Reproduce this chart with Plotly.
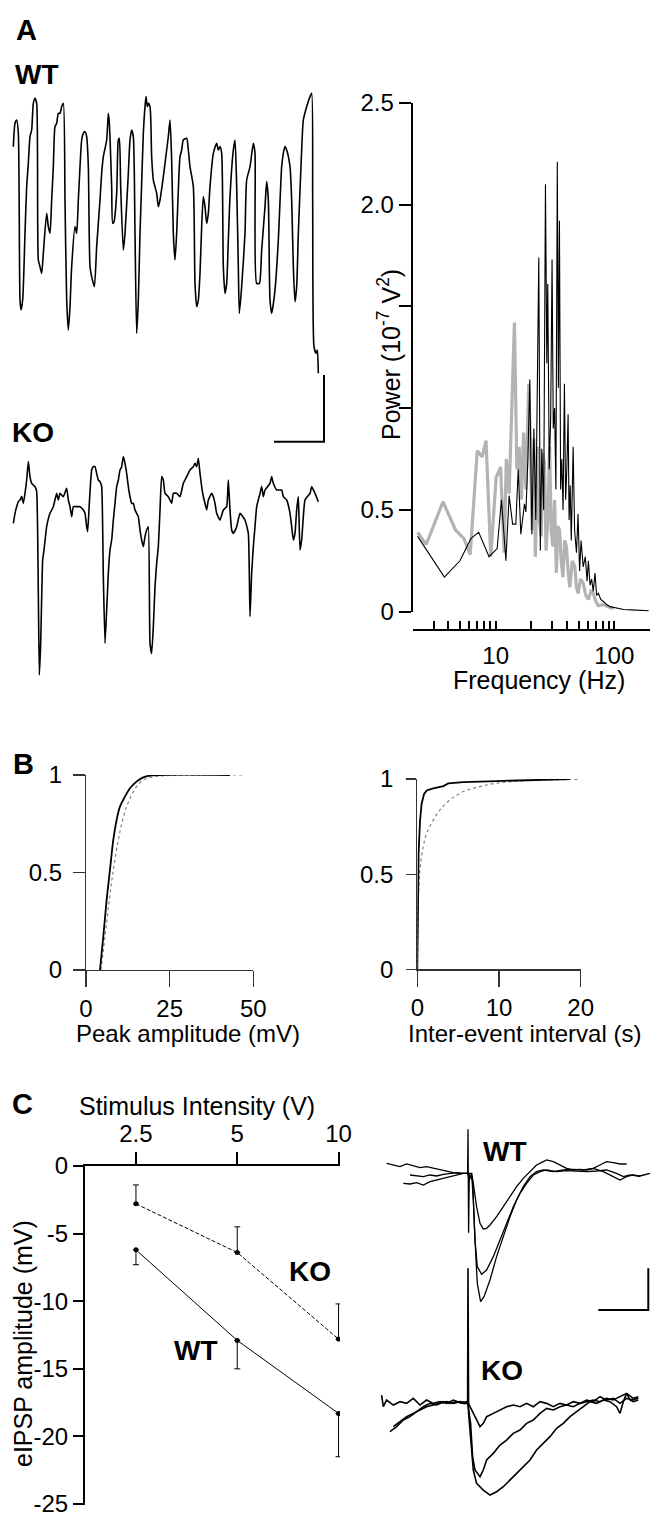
import math
import plotly.graph_objects as go

FONT = "Liberation Sans, Arial, Helvetica, sans-serif"
W, H = 652, 1517

# ======================= DATA =======================
# ---- Panel A: example field-potential traces (time ms, voltage mV) ----
wt_trace_ms = [0, 5, 10, 15, 20, 23, 28, 35, 40, 45,
               50, 55, 60, 65, 70, 75, 80, 85, 90, 100,
               105, 110, 115, 120, 125, 130, 135, 140, 145, 150,
               155, 160, 165, 170, 175, 185, 190, 195, 200, 205,
               210, 215, 220, 225, 230, 235, 243, 250, 260, 265,
               270, 280, 285, 288, 295, 298, 302, 310, 315, 318,
               322, 330, 335, 345, 350, 355, 360, 365, 370, 375,
               380, 385, 390, 395, 398, 402, 405, 410, 415, 420,
               430, 435, 440, 450, 460, 465, 470, 475, 480, 485,
               490, 495, 500, 505, 510, 520, 525, 530, 540, 545,
               550, 555, 560, 565, 570, 575, 580, 585, 590, 600,
               610, 615, 620, 625, 630, 635, 640, 645, 650, 660,
               665, 670, 675, 678, 685, 695, 700, 710, 720, 725,
               730, 738, 745, 755, 760, 765, 770, 775, 785, 795,
               805, 810, 815, 820, 830, 835, 840, 845, 850, 855,
               865, 870, 880, 890, 895, 898, 902, 908, 912, 915]
wt_trace_mv = [1.60, 2.30, 2.40, 2.00, -3.00, -3.30, -3.00, -1.00, 0.40, 1.10,
               1.90, 2.10, 2.90, 3.05, 2.90, -1.80, -2.00, -2.20, -1.60, -0.40,
               -0.80, -1.00, 0.00, 1.00, 2.20, 2.30, 2.60, 2.60, 2.80, 2.90,
               0.00, -3.00, -3.90, -3.20, -2.00, -0.80, -1.00, 0.00, 1.00, 1.80,
               2.00, 2.05, 1.90, 1.00, -2.00, -2.30, -2.60, -1.40, 0.00, 0.80,
               1.30, 1.80, 2.60, 2.30, 0.40, -0.70, -0.65, 0.20, 1.80, 1.85,
               0.40, -1.50, -1.00, 0.80, 1.80, 2.10, 1.90, -1.00, -4.00, -3.00,
               -1.00, 0.50, 2.00, 2.80, 3.10, 2.80, 2.90, 2.80, 1.30, 0.60,
               0.20, -0.20, 0.00, 0.70, 1.50, 1.90, 2.40, 1.20, -1.00, -1.80,
               -1.00, 0.30, 1.30, 1.50, 1.80, 1.85, 1.50, 1.00, 0.40, -2.50,
               -3.20, -3.00, -2.20, -0.80, 0.10, -0.20, -0.70, -0.40, 0.40, 1.40,
               1.70, 1.50, 1.60, 1.40, -2.00, -2.80, -2.50, -1.20, 0.10, 1.50,
               1.80, 0.40, -2.00, -3.40, -2.60, -1.00, 0.60, 1.00, 1.70, 1.40,
               -2.50, -2.50, -1.50, -0.20, 0.55, 0.00, -3.00, -3.40, -2.70, -1.20,
               1.00, 1.40, 1.60, 1.50, 1.00, 0.00, -2.00, -3.05, -2.60, -1.00,
               1.50, 2.40, 2.80, 3.10, 3.20, 0.00, -4.40, -4.60, -4.50, -5.20]

ko_trace_ms = [0, 5, 10, 15, 20, 25, 30, 35, 40, 45,
               50, 55, 60, 65, 70, 75, 78, 82, 88, 92,
               100, 110, 120, 130, 135, 140, 150, 160, 165, 170,
               175, 180, 190, 200, 210, 215, 220, 223, 228, 235,
               240, 245, 250, 255, 260, 265, 270, 275, 280, 285,
               290, 295, 300, 305, 310, 315, 320, 325, 330, 335,
               340, 345, 350, 355, 360, 365, 370, 375, 380, 385,
               390, 395, 400, 405, 410, 415, 420, 425, 430, 435,
               440, 445, 450, 455, 465, 475, 480, 490, 500, 510,
               520, 530, 540, 545, 550, 555, 560, 565, 570, 575,
               580, 585, 595, 600, 605, 610, 620, 630, 640, 645,
               650, 655, 660, 670, 680, 695, 705, 710, 715, 720,
               725, 730, 740, 745, 750, 755, 770, 775, 780, 790,
               805, 810, 820, 830, 835, 840, 845, 850, 855, 860,
               865, 870, 875, 890, 895, 905, 915]
ko_trace_mv = [1.10, 1.40, 1.60, 1.75, 1.80, 1.90, 1.70, 2.00, 2.40, 2.95,
               2.50, 2.30, 2.25, 2.20, 2.05, -1.00, -3.45, -2.50, 0.00, 0.30,
               1.00, 1.40, 1.60, 2.00, 1.80, 2.00, 1.90, 2.15, 1.80, 1.60,
               1.30, 1.60, 1.60, 1.60, 1.50, 1.40, 1.00, 0.85, 1.70, 2.70,
               2.80, 2.80, 2.60, 2.40, 2.35, 2.20, -0.50, -2.50, -1.50, -0.40,
               0.30, 0.60, 1.20, 1.70, 2.20, 2.40, 2.70, 2.80, 3.10, 2.90,
               2.60, 2.20, 1.90, 1.70, 1.70, 1.50, 1.40, 1.30, 0.90, 0.60,
               0.40, 0.70, 0.90, 1.00, -2.50, -2.80, -2.00, -0.80, -0.10, 0.40,
               1.50, 2.50, 2.40, 2.00, 1.90, 1.70, 2.00, 2.00, 1.90, 2.30,
               2.50, 2.70, 2.80, 2.90, 2.80, 3.05, 2.60, 2.20, 1.90, 1.70,
               1.50, 1.80, 2.00, 1.90, 1.70, 1.40, 1.20, 1.50, 1.60, 2.40,
               1.50, 0.90, 0.80, 1.00, 1.40, 1.20, 0.80, -1.70, -0.40, 0.40,
               1.00, 1.60, 2.00, 2.20, 1.90, 2.10, 2.30, 2.50, 2.30, 2.10,
               2.10, 1.90, 1.80, 1.40, 1.00, 0.60, 0.80, 1.50, 1.90, 0.30,
               0.60, 1.30, 1.80, 2.00, 2.20, 2.00, 1.75]

trace_bar_ms = 150      # horizontal scale bar (ms)
trace_bar_mv = 2        # vertical scale bar (mV)
trace_bar_end_ms = 932  # where the bar corner sits
trace_bar_base_mv = -7.25

# ---- Panel A: power spectra ----
wt_freq_hz = [2.2, 3.7, 5.0, 6.2, 7.2, 8.8, 10.3, 11.2, 12.2, 13.0,
              13.9, 14.8, 15.5, 16.3, 17.5, 18.0, 18.7, 19.4, 20.2, 21.0,
              21.8, 22.4, 23.1, 23.8, 24.5, 25.4, 26.3, 27.0, 27.5, 28.3,
              29.1, 29.9, 30.6, 31.4, 32.2, 33.1, 33.8, 34.5, 35.3, 36.1,
              37.0, 38.0, 38.9, 39.8, 40.8, 41.6, 42.5, 43.4, 45.0, 46.3,
              48.0, 49.5, 51.0, 52.5, 54.7, 57.0, 59.0, 60.5, 62.5, 64.4,
              66.5, 68.8, 71.0, 73.4, 77.0, 81.0, 86.0, 92.0, 100.0, 110.0,
              120.0, 140.0, 156.0, 175.0, 195.0]
wt_power = [0.37, 0.17, 0.25, 0.36, 0.39, 0.27, 0.31, 0.55, 0.25, 0.57,
            0.43, 0.43, 0.70, 0.38, 0.53, 0.49, 0.75, 1.14, 0.38, 0.90,
            0.45, 1.00, 1.74, 0.30, 0.80, 0.50, 2.10, 1.22, 1.61, 0.70,
            0.95, 1.73, 0.90, 1.00, 0.60, 2.21, 1.10, 1.92, 0.60, 0.75,
            0.50, 1.12, 0.55, 0.70, 0.97, 0.45, 0.62, 0.35, 0.81, 0.40,
            0.29, 0.48, 0.20, 0.35, 0.22, 0.27, 0.15, 0.25, 0.13, 0.16,
            0.10, 0.19, 0.08, 0.09, 0.06, 0.05, 0.035, 0.025, 0.02, 0.014,
            0.011, 0.009, 0.008, 0.006, 0.005]
ko_freq_hz = [2.2, 2.6, 3.6, 4.6, 5.4, 6.1, 7.0, 7.7, 8.3, 9.1,
              10.1, 11.0, 11.8, 12.3, 13.0, 14.4, 15.1, 15.8, 16.5, 17.2,
              18.0, 19.0, 19.6, 20.3, 21.0, 21.6, 22.6, 23.3, 24.2, 25.0,
              25.8, 26.6, 27.5, 28.5, 29.4, 30.4, 31.4, 32.5, 33.5, 34.6,
              35.7, 36.9, 38.2, 39.5, 40.8, 42.2, 44.3, 46.5, 48.0, 49.6,
              52.0, 54.7, 57.5, 60.5, 63.5, 66.5, 70.0, 73.4, 80.0, 86.8,
              93.0, 99.0]
ko_power = [0.39, 0.33, 0.54, 0.40, 0.36, 0.28, 0.79, 0.76, 0.84, 0.27,
            0.66, 0.71, 0.29, 0.75, 0.58, 1.42, 0.70, 0.81, 0.55, 0.88,
            0.60, 1.12, 0.84, 0.40, 0.85, 0.27, 0.81, 0.45, 0.37, 0.78,
            0.73, 0.30, 0.45, 0.81, 0.40, 0.32, 0.55, 0.19, 0.42, 0.40,
            0.25, 0.17, 0.35, 0.32, 0.20, 0.12, 0.25, 0.22, 0.12, 0.09,
            0.16, 0.14, 0.08, 0.06, 0.10, 0.09, 0.05, 0.03, 0.035, 0.025,
            0.02, 0.016]
power_tickvals = [0, 0.5, 1.0, 1.5, 2.0, 2.5]
power_ticktext = ["0", "0.5", "", "", "2.0", "2.5"]
freq_major = [10, 100]
freq_minor = [2, 3, 4, 5, 6, 7, 8, 9, 20, 30, 40, 50, 60, 70, 80, 90, 200]

# ---- Panel B: cumulative distributions ----
amp_wt_mv = [4.18, 5.17, 6.17, 7.16, 8.16, 9.15, 10.15, 11.64, 13.13, 15.1, 17.1, 19.1, 43.0]
amp_wt_cum = [0.0, 0.171, 0.359, 0.513, 0.667, 0.769, 0.838, 0.889, 0.932, 0.966, 0.988, 0.997, 1.0]
amp_ko_mv = [4.48, 5.67, 6.97, 8.16, 9.65, 10.94, 12.14, 13.63, 15.12, 17.1, 20.1, 24.1, 47.0]
amp_ko_cum = [0.0, 0.171, 0.359, 0.513, 0.667, 0.769, 0.838, 0.897, 0.940, 0.974, 0.991, 0.997, 1.0]
iei_wt_s = [0.0, 0.08, 0.16, 0.33, 0.53, 0.82, 1.15, 1.96, 3.19, 3.80, 5.64, 9.72, 13.8, 18.7]
iei_wt_cum = [0.0, 0.26, 0.61, 0.78, 0.87, 0.92, 0.94, 0.951, 0.963, 0.977, 0.984, 0.989, 0.995, 1.0]
iei_ko_s = [0.0, 0.12, 0.33, 0.73, 1.15, 1.96, 2.78, 4.0, 5.64, 7.68, 9.72, 13.8, 19.9]
iei_ko_cum = [0.0, 0.347, 0.522, 0.645, 0.715, 0.785, 0.838, 0.890, 0.934, 0.960, 0.978, 0.992, 0.998]

# ---- Panel C: input-output ----
stim_v = [2.5, 5, 10]
wt_eipsp = [-6.2, -12.9, -18.3]
wt_sem = [1.1, 2.1, 3.2]
ko_eipsp = [-2.8, -6.4, -12.8]
ko_sem = [1.4, 1.9, 2.6]
eipsp_ticks = [0, -5, -10, -15, -20, -25]
eipsp_ticktext = ["0", "-5", "-10", "-15", "-20", "-25"]

# ---- Panel C: example eIPSP traces (time ms from stimulus, mV) ----
wt1_ms = [-81.7, -75.0, -68.3, -61.7, -55.0, -48.3, -41.7, -35.0, -28.3, -21.7,
          -15.0, -8.3, -0.7, -0.3, 0.3, 1.0, 3.3, 5.0, 8.3, 11.7,
          15.0, 18.3, 21.7, 28.3, 35.0, 41.7, 48.3, 55.0, 61.7, 68.3,
          75.0, 78.3, 85.0, 91.7, 98.3, 105.0, 111.7, 118.3, 125.0, 131.7,
          138.3, 145.0, 151.7, 158.3]
wt1_mv = [1.2, 1.0, 0.8, 1.12, 0.88, 0.68, 0.8, 0.6, 0.4, 0.28,
          0.08, 0, 0, 5.28, -7.12, 0, 0, -1.2, -4.0, -6.0,
          -6.68, -6.6, -6.2, -5.2, -4.0, -2.8, -1.6, -0.6, 0.2, 1.0,
          1.4, 1.6, 1.4, 1.0, 0.6, 0.4, 0.48, 0.4, 0.6, 1.0,
          1.4, 1.28, 1.12, 1.12]
wt2_ms = [-58.3, -51.7, -45.0, -38.3, -31.7, -25.0, -18.3, -11.7, -5.0, -0.7,
          1.0, 3.3, 5.0, 6.7, 9.0, 13.3, 18.3, 25.0, 31.7, 38.3,
          45.0, 51.7, 58.3, 65.0, 71.7, 78.3, 88.3, 98.3, 108.3, 118.3,
          128.3, 138.3, 148.3, 155.0, 161.7, 171.7, 181.7]
wt2_mv = [-0.2, -0.28, -0.4, -0.2, -0.32, -0.12, 0, 0.08, 0, 0,
          -0.8, 0, -3.2, -8.0, -11.2, -12.12, -11.6, -10.0, -8.0, -6.0,
          -4.0, -2.4, -1.2, -0.2, 0.2, 0.4, 0.2, 0.32, 0.28, 0.2,
          0.28, 0.4, 0, -0.4, -0.2, -0.32, 0]
wt3_ms = [-65.0, -58.3, -51.7, -45.0, -38.3, -31.7, -25.0, -18.3, -11.7, -5.0,
          -0.7, 1.7, 4.3, 6.7, 9.0, 12.3, 15.7, 21.7, 28.3, 35.0,
          41.7, 48.3, 55.0, 61.7, 68.3, 75.0, 85.0, 95.0, 105.0, 115.0,
          125.0, 135.0, 141.7, 151.7, 158.3, 165.0, 171.7]
wt3_mv = [-1.2, -1.28, -1.12, -1.4, -1.0, -0.8, -0.6, -0.4, -0.12, 0,
          0, -0.4, -0.8, -8.0, -13.2, -15.4, -14.8, -12.8, -10.0, -7.6,
          -5.2, -3.2, -1.6, -0.4, 0.2, 0.4, 0.2, 0.4, 0.48, 0.4,
          0.6, 0.2, -0.2, -0.8, -0.4, -0.2, -0.4]
ko1_ms = [-86.7, -85.0, -81.7, -75.0, -68.3, -61.7, -55.0, -48.3, -41.7, -35.0,
          -28.3, -21.7, -15.0, -8.3, -0.7, 1.7, 5.0, 8.3, 11.7, 15.0,
          18.3, 25.0, 31.7, 38.3, 45.0, 51.7, 58.3, 65.0, 71.7, 78.3,
          85.0, 91.7, 98.3, 105.0, 111.7, 118.3, 125.0, 131.7, 138.3, 145.0,
          151.7, 158.3, 165.0, 170.0]
ko1_mv = [1.0, -0.4, 0.4, -0.2, 0.2, 0, 0.6, -0.2, 0.4, 0,
          0.2, 0, 0.4, 0.08, 0.2, -0.4, -1.2, -2.0, -2.8, -2.4,
          -1.6, -1.2, -0.8, -0.4, -0.2, -0.4, 0, -0.4, 0.2, 0,
          -0.4, 0, -0.2, 0.2, 0, 0.4, 0.2, 0.8, 0.4, 0.6,
          0, 0.6, 0.4, 0.6]
ko2_ms = [-78.3, -71.7, -65.0, -58.3, -51.7, -45.0, -38.3, -31.7, -25.0, -18.3,
          -11.7, -5.0, -0.7, 2.3, 4.3, 6.7, 11.7, 15.0, 18.3, 25.0,
          31.7, 38.3, 45.0, 51.7, 58.3, 65.0, 71.7, 78.3, 85.0, 91.7,
          98.3, 105.0, 111.7, 118.3, 125.0, 131.7, 138.3, 145.0, 151.7, 158.3,
          165.0, 170.0]
ko2_mv = [-3.4, -2.8, -2.0, -1.6, -1.0, -0.4, 0, -0.2, 0.2, 0,
          0.2, 0, 0, -2.4, -6.4, -8.0, -8.8, -8.0, -6.8, -6.0,
          -5.0, -4.4, -3.6, -3.2, -2.4, -2.0, -1.2, -0.6, -0.8, -0.4,
          -0.2, -0.4, 0, 0.2, 0.4, 0.2, 0.6, 0.4, 0.8, 1.2,
          0.6, 0.8]
ko3_ms = [-75.0, -68.3, -61.7, -55.0, -48.3, -41.7, -35.0, -28.3, -21.7, -15.0,
          -8.3, -0.7, -0.3, 0.3, 2.7, 5.0, 8.3, 15.0, 21.7, 28.3,
          35.0, 41.7, 48.3, 55.0, 61.7, 68.3, 75.0, 81.7, 88.3, 95.0,
          101.7, 108.3, 115.0, 121.7, 128.3, 135.0, 141.7, 148.3, 151.7, 155.0,
          158.3, 161.7, 165.0, 170.0]
ko3_mv = [-2.8, -2.2, -1.6, -1.2, -0.8, -0.4, -0.2, 0, 0.2, 0,
          0.2, 0, 16.2, -1.2, -4.4, -8.0, -9.6, -10.4, -11.0, -10.6,
          -10.0, -9.2, -8.4, -7.6, -6.8, -5.6, -4.8, -4.0, -3.0, -2.4,
          -1.6, -1.0, -0.4, 0.2, 0, 0.4, 0.2, -0.4, -1.2, 0.2,
          1.2, 0.4, 0.2, 0.4]
eipsp_bar_ms = 50
eipsp_bar_mv = 5
eipsp_bar_end_ms = 180
eipsp_bar_base_mv = -16.4

# ======================= LAYOUT HELPERS =======================
def dx(a, b):
    return [a / W, b / W]


def dy(top, bottom):
    return [1 - bottom / H, 1 - top / H]


def hidden(domain, rng, anchor):
    return dict(domain=domain, range=rng, anchor=anchor, visible=False,
                showgrid=False, zeroline=False, fixedrange=True)


tickfont = dict(family=FONT, size=24, color="black")

fig = go.Figure()

BLACK = "black"
GRAY = "#b3b3b3"
DOTGRAY = "#808080"

# ---- A: traces ----
fig.add_trace(go.Scatter(x=wt_trace_ms, y=wt_trace_mv, mode="lines",
                         line=dict(color=BLACK, width=1.6, shape="spline", smoothing=0.6),
                         xaxis="x", yaxis="y"))
fig.add_trace(go.Scatter(
    x=[trace_bar_end_ms - trace_bar_ms, trace_bar_end_ms, trace_bar_end_ms],
    y=[trace_bar_base_mv, trace_bar_base_mv, trace_bar_base_mv + trace_bar_mv],
    mode="lines", line=dict(color=BLACK, width=2), xaxis="x", yaxis="y"))
fig.add_trace(go.Scatter(x=ko_trace_ms, y=ko_trace_mv, mode="lines",
                         line=dict(color=BLACK, width=1.6, shape="spline", smoothing=0.4),
                         xaxis="x2", yaxis="y2"))

# ---- A: power spectrum ----
fig.add_trace(go.Scatter(x=ko_freq_hz, y=ko_power, mode="lines",
                         line=dict(color=GRAY, width=3.2), xaxis="x3", yaxis="y3"))
fig.add_trace(go.Scatter(x=wt_freq_hz, y=wt_power, mode="lines",
                         line=dict(color=BLACK, width=1.1), xaxis="x3", yaxis="y3"))

# ---- B ----
fig.add_trace(go.Scatter(x=amp_ko_mv, y=amp_ko_cum, mode="lines",
                         line=dict(color=DOTGRAY, width=1.2, dash="dot", shape="spline"),
                         xaxis="x4", yaxis="y4"))
fig.add_trace(go.Scatter(x=amp_wt_mv, y=amp_wt_cum, mode="lines",
                         line=dict(color=BLACK, width=1.8, shape="spline"),
                         xaxis="x4", yaxis="y4"))
fig.add_trace(go.Scatter(x=iei_ko_s, y=iei_ko_cum, mode="lines",
                         line=dict(color=DOTGRAY, width=1.2, dash="dot", shape="spline"),
                         xaxis="x5", yaxis="y5"))
fig.add_trace(go.Scatter(x=iei_wt_s, y=iei_wt_cum, mode="lines",
                         line=dict(color=BLACK, width=1.8),
                         xaxis="x5", yaxis="y5"))

# ---- C: input-output ----
fig.add_trace(go.Scatter(
    x=stim_v, y=ko_eipsp, mode="lines+markers",
    line=dict(color=BLACK, width=1, dash="4px,2px"),
    marker=dict(color=BLACK, size=5),
    error_y=dict(type="data", symmetric=False, array=ko_sem, arrayminus=[0, 0, 0],
                 width=3, thickness=1, color=BLACK),
    xaxis="x6", yaxis="y6"))
fig.add_trace(go.Scatter(
    x=stim_v, y=wt_eipsp, mode="lines+markers",
    line=dict(color=BLACK, width=1),
    marker=dict(color=BLACK, size=5),
    error_y=dict(type="data", symmetric=False, array=[0, 0, 0], arrayminus=wt_sem,
                 width=3, thickness=1, color=BLACK),
    xaxis="x6", yaxis="y6"))

# ---- C: example eIPSPs ----
for tx, vy in [(wt1_ms, wt1_mv), (wt2_ms, wt2_mv), (wt3_ms, wt3_mv)]:
    fig.add_trace(go.Scatter(x=tx, y=vy, mode="lines", line=dict(color=BLACK, width=1.3),
                             xaxis="x7", yaxis="y7"))
fig.add_trace(go.Scatter(
    x=[eipsp_bar_end_ms - eipsp_bar_ms, eipsp_bar_end_ms, eipsp_bar_end_ms],
    y=[eipsp_bar_base_mv, eipsp_bar_base_mv, eipsp_bar_base_mv + eipsp_bar_mv],
    mode="lines", line=dict(color=BLACK, width=2), xaxis="x7", yaxis="y7"))
for tx, vy in [(ko1_ms, ko1_mv), (ko2_ms, ko2_mv), (ko3_ms, ko3_mv)]:
    fig.add_trace(go.Scatter(x=tx, y=vy, mode="lines", line=dict(color=BLACK, width=1.6),
                             xaxis="x8", yaxis="y8"))

# ======================= AXES =======================
axis_common = dict(showgrid=False, zeroline=False, fixedrange=True, tickfont=tickfont,
                   showline=True, automargin=False, ticklabeloverflow="allow")

layout_axes = dict(
    xaxis=hidden(dx(0, 330), [-40, 950], "y"),
    yaxis=hidden(dy(0, 450), [-7.5, 6.0], "x"),
    xaxis2=hidden(dx(0, 330), [-40, 950], "y2"),
    yaxis2=hidden(dy(360, 690), [-3.9, 6.0], "x2"),
    xaxis3=dict(axis_common, type="log", domain=dx(412.7, 650),
                range=[math.log10(2), math.log10(200)], anchor="free", position=1 - 630 / H,
                linecolor=BLACK, linewidth=2, ticks="inside", ticklen=8, tickwidth=2,
                tickcolor=BLACK, tickvals=freq_major, ticktext=[str(v) for v in freq_major],
                ticklabelstandoff=4,
                minor=dict(ticks="inside", ticklen=8, tickwidth=2, tickcolor=BLACK,
                           tickvals=freq_minor, showgrid=False)),
    yaxis3=dict(axis_common, domain=dy(102.7, 611.7), range=[0, 2.5], anchor="x3",
                linecolor=BLACK, linewidth=2, ticks="outside", ticklen=12, tickwidth=2,
                tickcolor=BLACK, tickvals=power_tickvals, ticktext=power_ticktext),
    xaxis4=dict(axis_common, domain=dx(86, 253.3), range=[0, 50], anchor="y4",
                linecolor="#333333", linewidth=1.2, ticks="outside", ticklen=16,
                tickwidth=1.2, tickcolor="#333333", tickvals=[0, 25, 50], ticklabelstandoff=1),
    yaxis4=dict(axis_common, domain=dy(775, 970), range=[0, 1], anchor="x4",
                linecolor="#333333", linewidth=1.2, ticks="outside", ticklen=12,
                tickwidth=1.2, tickcolor="#333333", tickvals=[0, 0.5, 1],
                ticktext=["0", "0.5", "1"], ticklabelstandoff=6),
    xaxis5=dict(axis_common, domain=dx(417.3, 580.7), range=[0, 20], anchor="y5",
                linecolor="#333333", linewidth=1.2, ticks="outside", ticklen=16,
                tickwidth=1.2, tickcolor="#333333", tickvals=[0, 10, 20], ticklabelstandoff=1),
    yaxis5=dict(axis_common, domain=dy(779, 969.3), range=[0, 1], anchor="x5",
                linecolor="#333333", linewidth=1.2, ticks="outside", ticklen=10,
                tickwidth=1.2, tickcolor="#333333", tickvals=[0, 0.5, 1],
                ticktext=["0", "0.5", "1"], ticklabelstandoff=8),
    xaxis6=dict(axis_common, type="log", side="top", domain=dx(85, 340),
                range=[0.2465, 1.0043], anchor="y6", linecolor=BLACK, linewidth=2,
                ticks="outside", ticklen=12, tickwidth=2, tickcolor=BLACK,
                tickvals=stim_v, ticktext=["2.5", "5", "10"], ticklabelstandoff=0),
    yaxis6=dict(axis_common, domain=dy(1166, 1505.4), range=[-25.1, 0], anchor="x6",
                linecolor=BLACK, linewidth=2, ticks="outside", ticklen=10, tickwidth=2,
                tickcolor=BLACK, tickvals=eipsp_ticks, ticktext=eipsp_ticktext),
    xaxis7=hidden(dx(340, 652), [-128.3, 183.7], "y7"),
    yaxis7=hidden(dy(1090, 1323.3), [-18, 10], "x7"),
    xaxis8=hidden(dx(340, 652), [-128.3, 183.7], "y8"),
    yaxis8=hidden(dy(1240, 1506.7), [-12.4, 19.6], "x8"),
)


def label(text, x, y, size=25, bold=False, angle=0):
    return dict(text=f"<b>{text}</b>" if bold else text, x=x / W, y=1 - y / H,
                xref="paper", yref="paper", showarrow=False, xanchor="center",
                yanchor="middle", textangle=angle,
                font=dict(family=FONT, size=size, color="black"))


annotations = [
    label("A", 27, 30, size=29, bold=True),
    label("WT", 37, 74, size=28, bold=True),
    label("KO", 33, 432, size=28, bold=True),
    label("Power (10<sup>-7</sup> V<sup>2</sup>)", 389, 355, size=25, angle=-90),
    label("Frequency (Hz)", 539, 680, size=25),
    label("B", 23, 764, size=29, bold=True),
    label("Peak amplitude (mV)", 188, 1033, size=24),
    label("Inter-event interval (s)", 524, 1033, size=24),
    label("C", 22, 1104, size=29, bold=True),
    label("Stimulus Intensity (V)", 197, 1106, size=25),
    label("eIPSP amplitude (mV)", 23, 1344, size=25, angle=-90),
    label("KO", 310, 1271, size=28, bold=True),
    label("WT", 196, 1350, size=28, bold=True),
    label("WT", 505, 1151, size=28, bold=True),
    label("KO", 502, 1370, size=28, bold=True),
]

fig.update_layout(
    width=W, height=H,
    margin=dict(l=0, r=0, t=0, b=0, pad=0, autoexpand=False),
    paper_bgcolor="white", plot_bgcolor="rgba(0,0,0,0)", showlegend=False,
    font=dict(family=FONT, color="black"),
    annotations=annotations,
    **layout_axes,
)

fig.write_html(
    "out.html",
    config={"displayModeBar": False, "staticPlot": True},
    post_script="document.body.style.margin='0';document.body.style.padding='0';"
                "document.documentElement.style.overflow='hidden';",
)
